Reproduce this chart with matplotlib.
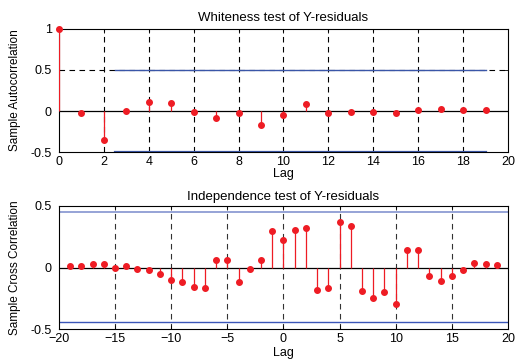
import matplotlib
matplotlib.use("Agg")
import matplotlib.pyplot as plt
import numpy as np

plt.rcParams['font.family'] = ['Liberation Sans', 'DejaVu Sans']
plt.rcParams['font.size'] = 9

# Whiteness test (autocorrelation)
lags_auto = list(range(0, 20))
acf_vals = [1.0, -0.03, -0.35, 0.0, 0.105, 0.095, -0.01, -0.08, -0.03, -0.167,
            -0.05, 0.085, -0.03, -0.015, -0.015, -0.03, 0.01, 0.02, 0.01, 0.01]
conf_auto = 0.5
conf_auto_span = [2.5, 19.0]

# Independence test (cross correlation)
lags_cross = list(range(-19, 20))
ccf_vals = [0.01, 0.016, 0.025, 0.025, 0.0, 0.01, -0.014, -0.02, -0.05, -0.1,
            -0.115, -0.16, -0.17, 0.06, 0.06, -0.115, -0.01, 0.065, 0.30, 0.22,
            0.308, 0.32, -0.18, -0.166, 0.373, 0.335, -0.193, -0.25, -0.2, -0.297,
            0.14, 0.14, -0.065, -0.106, -0.07, -0.02, 0.038, 0.03, 0.022]
conf_cross_upper = 0.45
conf_cross_lower = -0.44

fig = plt.figure(figsize=(5.21, 3.62), dpi=100)
ax1 = fig.add_axes([0.113, 0.58, 0.862, 0.34])
ax2 = fig.add_axes([0.113, 0.091, 0.862, 0.34])

red = '#ee1c24'

def style(ax):
    ax.tick_params(axis='both', direction='in', length=3, width=0.6, labelsize=9,
                   top=True, right=True)
    ax.tick_params(axis='x', pad=3)
    ax.tick_params(axis='y', pad=5)
    for s in ax.spines.values():
        s.set_linewidth(0.8)
        s.set_color('black')

# Top
ax1.set_xlim(0, 20)
ax1.set_ylim(-0.5, 1)
ax1.set_xticks(np.arange(0, 21, 2))
ax1.set_yticks([-0.5, 0, 0.5, 1])
ax1.set_yticklabels(['-0.5', '0', '0.5', '1'])
for xv in np.arange(2, 20, 2):
    ax1.axvline(xv, color='black', linestyle=(0, (5, 4)), linewidth=0.8, zorder=0)
ax1.axhline(0.5, color='black', linestyle=(0, (5, 4)), linewidth=0.8, zorder=0)
ax1.axhline(0, color='black', linewidth=0.9, zorder=1)
ax1.plot(conf_auto_span, [conf_auto, conf_auto], color='#3a56a8', linewidth=1.0, zorder=2)
ax1.plot(conf_auto_span, [-conf_auto, -conf_auto], color='#3a56a8', linewidth=1.6, zorder=2)
ax1.vlines(lags_auto, 0, acf_vals, color=red, linewidth=0.9, zorder=3)
ax1.plot(lags_auto, acf_vals, 'o', color=red, markersize=4, zorder=4, clip_on=False)
ax1.set_title('Whiteness test of Y-residuals', fontsize=9.5, pad=6)
ax1.set_xlabel('Lag', fontsize=9, labelpad=0)
ax1.set_ylabel('Sample Autocorrelation', fontsize=8.5, labelpad=7)
style(ax1)

# Bottom
ax2.set_xlim(-20, 20)
ax2.set_ylim(-0.5, 0.5)
ax2.set_xticks(np.arange(-20, 21, 5))
ax2.set_yticks([-0.5, 0, 0.5])
ax2.set_yticklabels(['-0.5', '0', '0.5'])
for xv in np.arange(-15, 20, 5):
    ax2.axvline(xv, color='#333333', linestyle=(0, (5, 4)), linewidth=0.8, zorder=0)
ax2.axhline(0, color='black', linewidth=0.9, zorder=1)
ax2.axhline(conf_cross_upper, color='#8494cf', linewidth=1.2, zorder=2)
ax2.axhline(conf_cross_lower, color='#3a56b8', linewidth=1.0, zorder=2)
ax2.vlines(lags_cross, 0, ccf_vals, color=red, linewidth=0.9, zorder=3)
ax2.plot(lags_cross, ccf_vals, 'o', color=red, markersize=4, zorder=4)
ax2.set_title('Independence test of Y-residuals', fontsize=9.5, pad=4)
ax2.set_xlabel('Lag', fontsize=9, labelpad=1)
ax2.set_ylabel('Sample Cross Correlation', fontsize=8.5, labelpad=7)
style(ax2)

fig.savefig('out.png', dpi=100)
